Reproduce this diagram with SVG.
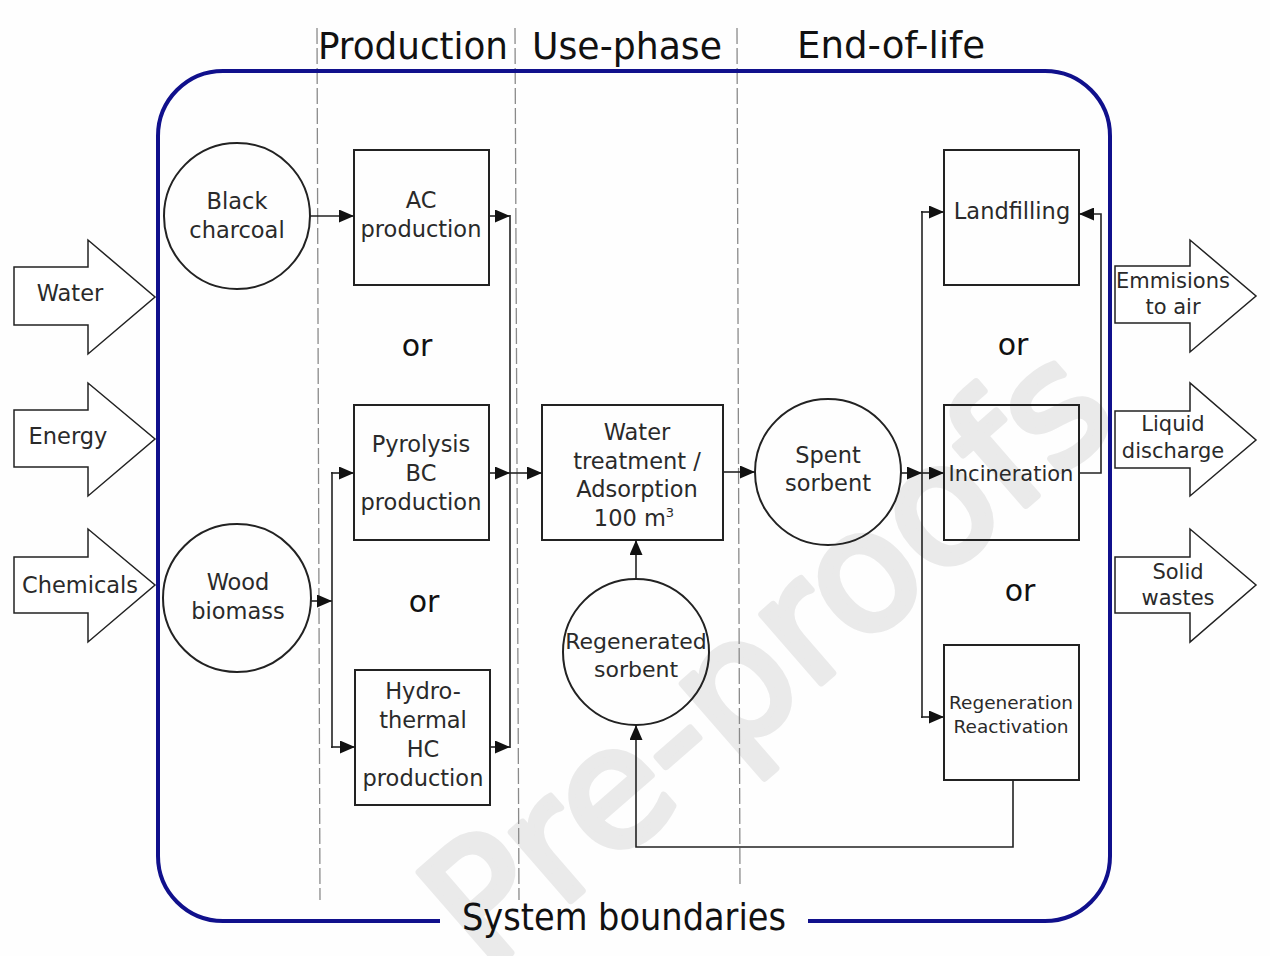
<svg xmlns="http://www.w3.org/2000/svg" width="1270" height="956" viewBox="0 0 1270 956">
<defs>
<marker id="ah" markerUnits="userSpaceOnUse" markerWidth="15" markerHeight="13" refX="15" refY="6.5" orient="auto">
<path d="M0,0 L15,6.5 L0,13 z" fill="#111"/>
</marker>
<style>
.box{fill:none;stroke:#222;stroke-width:2}
.bigarrow{fill:#fff;stroke:#222;stroke-width:1.5}
.t{font-family:"DejaVu Sans","Liberation Sans",sans-serif;font-size:22.5px;fill:#2a2a2a;text-anchor:middle}
.or{font-family:"DejaVu Sans","Liberation Sans",sans-serif;font-size:30px;fill:#111;text-anchor:middle}
.hd{font-family:"DejaVu Sans Condensed","DejaVu Sans",sans-serif;font-stretch:condensed;font-size:38px;fill:#111}
.conn{fill:none;stroke:#222;stroke-width:1.6}
.dash{stroke:#8a8a8a;stroke-width:1.3;stroke-dasharray:16 4}
</style>
</defs>
<rect width="1270" height="956" fill="#fefefe"/>
<g id="watermark">
<text transform="translate(775,665) rotate(-41)" x="0" y="44" font-family="DejaVu Sans, sans-serif" font-size="166" fill="#eaeaea" stroke="#eaeaea" stroke-width="7" stroke-linejoin="round" text-anchor="middle">Pre-proofs</text>
</g>
<g id="phases">
<line class="dash" x1="317" y1="28" x2="320" y2="900"/>
<line class="dash" x1="515" y1="28" x2="519" y2="900"/>
<line class="dash" x1="737" y1="28" x2="740" y2="886"/>
<text class="hd" x="318" y="59" textLength="190" lengthAdjust="spacingAndGlyphs">Production</text>
<text class="hd" x="532" y="59" textLength="190" lengthAdjust="spacingAndGlyphs">Use-phase</text>
<text class="hd" x="797" y="58" textLength="188" lengthAdjust="spacingAndGlyphs">End-of-life</text>
</g>
<g id="system-boundary">
<path d="M440,921 L223,921 A65,65 0 0 1 158,856 L158,136 A65,65 0 0 1 223,71 L1045,71 A65,65 0 0 1 1110,136 L1110,856 A65,65 0 0 1 1045,921 L808,921" fill="none" stroke="#10108c" stroke-width="4"/>
<text class="hd" x="462" y="930" textLength="324" lengthAdjust="spacingAndGlyphs">System boundaries</text>
</g>
<g id="in-water">
<path class="bigarrow" d="M14,267 L88,267 L88,240 L155,297 L88,354 L88,325 L14,325 z"/>
<text class="t" x="70" y="301">Water</text>
</g>
<g id="in-energy">
<path class="bigarrow" d="M14,410 L88,410 L88,383 L155,439 L88,496 L88,467 L14,467 z"/>
<text class="t" x="68" y="444">Energy</text>
</g>
<g id="in-chemicals">
<path class="bigarrow" d="M14,557 L88,557 L88,529 L155,585 L88,642 L88,613 L14,613 z"/>
<text class="t" x="80" y="593">Chemicals</text>
</g>
<g id="out-emissions">
<path class="bigarrow" d="M1115,266 L1190,266 L1190,240 L1256,296 L1190,352 L1190,323 L1115,323 z"/>
<text class="t" x="1173" y="288" style="font-size:21px">Emmisions</text>
<text class="t" x="1173" y="314" style="font-size:21px">to air</text>
</g>
<g id="out-liquid">
<path class="bigarrow" d="M1115,411 L1190,411 L1190,383 L1256,440 L1190,496 L1190,468 L1115,468 z"/>
<text class="t" x="1173" y="431" style="font-size:21px">Liquid</text>
<text class="t" x="1173" y="458" style="font-size:21px">discharge</text>
</g>
<g id="out-solid">
<path class="bigarrow" d="M1115,557 L1190,557 L1190,529 L1256,585 L1190,642 L1190,613 L1115,613 z"/>
<text class="t" x="1178" y="579" style="font-size:21px">Solid</text>
<text class="t" x="1178" y="605" style="font-size:21px">wastes</text>
</g>
<g id="black-charcoal">
<circle class="box" cx="237" cy="216" r="73"/>
<text class="t" x="237" y="209">Black</text>
<text class="t" x="237" y="238">charcoal</text>
</g>
<g id="wood-biomass">
<circle class="box" cx="237" cy="598" r="74"/>
<text class="t" x="238" y="590">Wood</text>
<text class="t" x="238" y="619">biomass</text>
</g>
<g id="ac-production">
<rect class="box" x="354" y="150" width="135" height="135"/>
<text class="t" x="421" y="208">AC</text>
<text class="t" x="421" y="237">production</text>
</g>
<g id="pyrolysis">
<rect class="box" x="354" y="405" width="135" height="135"/>
<text class="t" x="421" y="452">Pyrolysis</text>
<text class="t" x="421" y="481">BC</text>
<text class="t" x="421" y="510">production</text>
</g>
<g id="hydrothermal">
<rect class="box" x="355" y="670" width="135" height="135"/>
<text class="t" x="423" y="699">Hydro-</text>
<text class="t" x="423" y="728">thermal</text>
<text class="t" x="423" y="757">HC</text>
<text class="t" x="423" y="786">production</text>
</g>
<g id="or-labels">
<text class="or" x="417" y="356">or</text>
<text class="or" x="424" y="612">or</text>
<text class="or" x="1013" y="355">or</text>
<text class="or" x="1020" y="601">or</text>
</g>
<g id="water-treatment">
<rect class="box" x="542" y="405" width="181" height="135"/>
<text class="t" x="637" y="440">Water</text>
<text class="t" x="637" y="469">treatment /</text>
<text class="t" x="637" y="497">Adsorption</text>
<text class="t" x="634" y="526">100 m<tspan dy="-9" style="font-size:13px">3</tspan></text>
</g>
<g id="spent-sorbent">
<circle class="box" cx="828" cy="472" r="73"/>
<text class="t" x="828" y="463">Spent</text>
<text class="t" x="828" y="491">sorbent</text>
</g>
<g id="regenerated-sorbent">
<circle class="box" cx="636" cy="652" r="73"/>
<text class="t" x="636" y="649" style="font-size:22px">Regenerated</text>
<text class="t" x="636" y="677" style="font-size:22px">sorbent</text>
</g>
<g id="landfilling">
<rect class="box" x="944" y="150" width="135" height="135"/>
<text class="t" x="1012" y="219">Landfilling</text>
</g>
<g id="incineration">
<rect class="box" x="944" y="405" width="135" height="135"/>
<text class="t" x="1011" y="481" style="font-size:21px">Incineration</text>
</g>
<g id="regeneration">
<rect class="box" x="944" y="645" width="135" height="135"/>
<text class="t" x="1011" y="709" style="font-size:18.5px">Regeneration</text>
<text class="t" x="1011" y="733" style="font-size:18.5px">Reactivation</text>
</g>
<g id="connectors">
<line class="conn" x1="310" y1="216" x2="354" y2="216" marker-end="url(#ah)"/>
<line class="conn" x1="489" y1="216" x2="510" y2="216" marker-end="url(#ah)"/>
<line class="conn" x1="510" y1="215" x2="510" y2="748"/>
<line class="conn" x1="311" y1="601" x2="332" y2="601" marker-end="url(#ah)"/>
<line class="conn" x1="332" y1="472" x2="332" y2="748"/>
<line class="conn" x1="331" y1="473" x2="354" y2="473" marker-end="url(#ah)"/>
<line class="conn" x1="331" y1="747" x2="355" y2="747" marker-end="url(#ah)"/>
<line class="conn" x1="489" y1="473" x2="510" y2="473" marker-end="url(#ah)"/>
<line class="conn" x1="490" y1="747" x2="510" y2="747" marker-end="url(#ah)"/>
<line class="conn" x1="510" y1="473" x2="542" y2="473" marker-end="url(#ah)"/>
<line class="conn" x1="723" y1="472" x2="755" y2="472" marker-end="url(#ah)"/>
<line class="conn" x1="901" y1="473" x2="922" y2="473" marker-end="url(#ah)"/>
<line class="conn" x1="922" y1="473" x2="944" y2="473" marker-end="url(#ah)"/>
<line class="conn" x1="922" y1="211" x2="922" y2="718"/>
<line class="conn" x1="921" y1="212" x2="944" y2="212" marker-end="url(#ah)"/>
<line class="conn" x1="921" y1="717" x2="944" y2="717" marker-end="url(#ah)"/>
<polyline class="conn" points="1079,473 1101,473 1101,214 1079,214" marker-end="url(#ah)"/>
<polyline class="conn" points="1013,780 1013,847 636,847 636,725" marker-end="url(#ah)"/>
<line class="conn" x1="636" y1="579" x2="636" y2="540" marker-end="url(#ah)"/>
</g>
</svg>
